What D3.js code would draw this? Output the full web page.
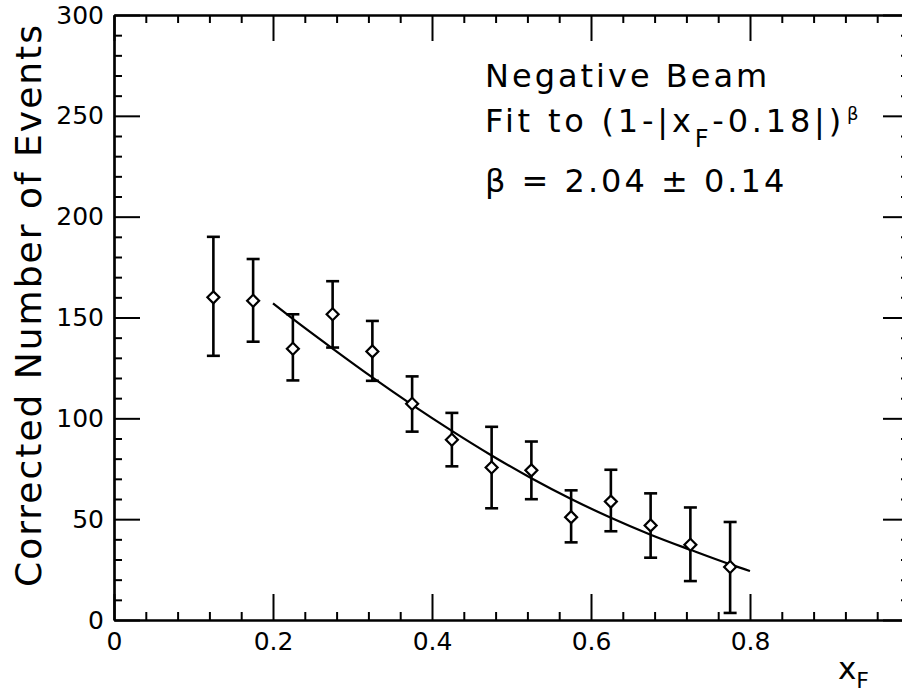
<!DOCTYPE html>
<html>
<head>
<meta charset="utf-8">
<script src="https://cdn.jsdelivr.net/npm/d3@7/dist/d3.min.js"></script>
<style>
  html, body { margin: 0; padding: 0; background: #fff; }
  svg { display: block; }
  text { font-family: "DejaVu Sans", sans-serif; fill: #000; }
</style>
</head>
<body>
<svg id="chart" width="902" height="695"></svg>
<script>
// ---- data ----
const xCenters = [0.125, 0.175, 0.225, 0.275, 0.325, 0.375, 0.425, 0.475, 0.525, 0.575, 0.625, 0.675, 0.725, 0.775];
const yValues  = [160.0, 158.3, 134.5, 151.6, 133.2, 107.2, 89.4, 75.6, 74.2, 51.0, 58.7, 46.9, 37.3, 26.3];
const yHigh    = [190.0, 179.0, 151.6, 168.0, 148.3, 120.8, 102.7, 95.8, 88.5, 64.3, 74.5, 62.8, 55.8, 48.6];
const yLow     = [131.0, 138.0, 118.8, 135.1, 118.6, 93.4, 76.2, 55.4, 59.9, 38.5, 44.0, 30.9, 19.3, 3.5];

const fitX = [0.2, 0.225, 0.275, 0.325, 0.375, 0.425, 0.475, 0.525, 0.575, 0.625, 0.675, 0.725, 0.775, 0.8];
const fitY = [157.0, 149.3, 134.6, 120.3, 106.7, 93.8, 81.6, 70.3, 60.0, 50.7, 42.3, 34.8, 27.6, 24.3];

const xMajorTicks = [0, 0.2, 0.4, 0.6, 0.8, 1.0];
const xTickLabels = ["0", "0.2", "0.4", "0.6", "0.8", ""];
const yMajorTicks = [0, 50, 100, 150, 200, 250, 300];
const yTickLabels = ["0", "50", "100", "150", "200", "250", "300"];

const yTitle = "Corrected Number of Events";
const legendLine1 = "Negative Beam";
const legendLine3 = "\u03B2 = 2.04 \u00B1 0.14";

// ---- layout ----
const svg = d3.select("#chart");
const x = d3.scaleLinear().domain([0, 1]).range([114, 909]);
const y = d3.scaleLinear().domain([0, 300]).range([620, 15]);

const xMinor = d3.range(0, 1.0001, 0.04).filter(v => !xMajorTicks.some(m => Math.abs(m - v) < 1e-6));
const yMinor = d3.range(0, 300.001, 10).filter(v => v % 50 !== 0);

const MAJ = 26, MIN = 8;

function styleAxis(g) {
  g.select(".domain").attr("stroke", "#000").attr("stroke-width", 2.2);
  g.selectAll(".tick line").attr("stroke", "#000").attr("stroke-width", 2);
  g.selectAll(".tick text").style("font-size", "25px").attr("fill", "#000");
}

// bottom
const gb = svg.append("g").attr("transform", `translate(0,${y(0)})`);
gb.call(d3.axisBottom(x).tickValues(xMajorTicks).tickSize(-MAJ).tickSizeOuter(0).tickPadding(12)
  .tickFormat((d, i) => xTickLabels[i])).call(styleAxis);
gb.append("g").call(d3.axisBottom(x).tickValues(xMinor).tickSize(-MIN).tickSizeOuter(0).tickFormat(""))
  .call(styleAxis);

// top
const gt = svg.append("g").attr("transform", `translate(0,${y(300)})`);
gt.call(d3.axisTop(x).tickValues(xMajorTicks).tickSize(-MAJ).tickSizeOuter(0).tickFormat("")).call(styleAxis);
gt.append("g").call(d3.axisTop(x).tickValues(xMinor).tickSize(-MIN).tickSizeOuter(0).tickFormat("")).call(styleAxis);

// left
const gl = svg.append("g").attr("transform", `translate(${x(0)},0)`);
gl.call(d3.axisLeft(y).tickValues(yMajorTicks).tickSize(-MAJ).tickSizeOuter(0).tickPadding(10)
  .tickFormat((d, i) => yTickLabels[i])).call(styleAxis);
gl.append("g").call(d3.axisLeft(y).tickValues(yMinor).tickSize(-MIN).tickSizeOuter(0).tickFormat("")).call(styleAxis);

// right
const gr = svg.append("g").attr("transform", `translate(${x(1)},0)`);
gr.call(d3.axisRight(y).tickValues(yMajorTicks).tickSize(-MAJ).tickSizeOuter(0).tickFormat("")).call(styleAxis);
gr.append("g").call(d3.axisRight(y).tickValues(yMinor).tickSize(-MIN).tickSizeOuter(0).tickFormat("")).call(styleAxis);

// ---- fit curve ----
const fitData = fitX.map((v, i) => [v, fitY[i]]);
svg.append("path")
  .datum(fitData)
  .attr("fill", "none").attr("stroke", "#000").attr("stroke-width", 2.2)
  .attr("d", d3.line().x(d => x(d[0])).y(d => y(d[1])).curve(d3.curveMonotoneX));

// ---- error bars and markers ----
const pts = xCenters.map((v, i) => ({ x: v, y: yValues[i], hi: yHigh[i], lo: yLow[i] }));
const capW = 6.5;
const eg = svg.append("g").attr("stroke", "#000").attr("stroke-width", 2.6);
eg.selectAll("line.bar").data(pts).join("line").attr("class", "bar")
  .attr("x1", d => x(d.x)).attr("x2", d => x(d.x)).attr("y1", d => y(d.hi)).attr("y2", d => y(d.lo));
eg.selectAll("line.capHi").data(pts).join("line").attr("class", "capHi")
  .attr("x1", d => x(d.x) - capW).attr("x2", d => x(d.x) + capW).attr("y1", d => y(d.hi)).attr("y2", d => y(d.hi));
eg.selectAll("line.capLo").data(pts).join("line").attr("class", "capLo")
  .attr("x1", d => x(d.x) - capW).attr("x2", d => x(d.x) + capW).attr("y1", d => y(d.lo)).attr("y2", d => y(d.lo));

const diamond = d3.symbol().type(d3.symbolSquare).size(72);
svg.append("g").selectAll("path").data(pts).join("path")
  .attr("transform", d => `translate(${x(d.x)},${y(d.y)}) rotate(45)`)
  .attr("d", diamond)
  .attr("fill", "#fff").attr("stroke", "#000").attr("stroke-width", 2.2);

// ---- axis titles ----
svg.append("text")
  .attr("transform", "translate(41,306) rotate(-90)")
  .attr("text-anchor", "middle")
  .attr("textLength", 562).attr("lengthAdjust", "spacing")
  .style("font-size", "36px")
  .text(yTitle);

const xt = svg.append("text").attr("x", 838).attr("y", 679).style("font-size", "31px");
xt.append("tspan").text("x");
xt.append("tspan").attr("dy", 9).style("font-size", "22px").text("F");

// ---- legend text ----
const leg = svg.append("g").style("font-size", "32px").style("letter-spacing", "3px");
leg.append("text").attr("x", 485).attr("y", 87).text(legendLine1);
const l2 = leg.append("text").attr("x", 485).attr("y", 132).style("letter-spacing", "3.8px");
l2.append("tspan").text("Fit to (1-|x");
l2.append("tspan").attr("dy", 15).style("font-size", "24px").text("F");
l2.append("tspan").attr("dy", -15).text("-0.18|)");
l2.append("tspan").attr("dy", -12).attr("dx", 2).style("font-size", "18px").text("\u03B2");
leg.append("text").attr("x", 485).attr("y", 192).text(legendLine3);
</script>
</body>
</html>
